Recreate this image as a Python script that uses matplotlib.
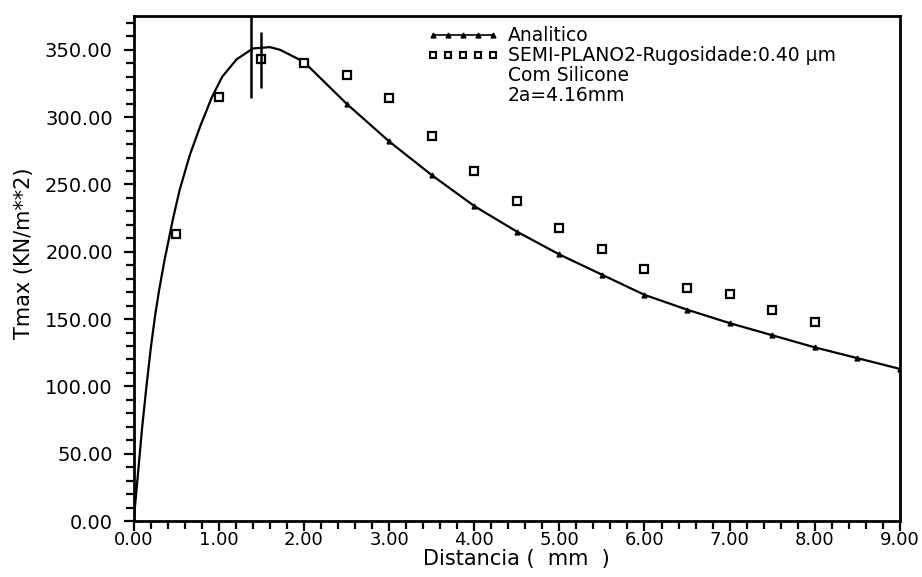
import matplotlib.pyplot as plt
from matplotlib.ticker import MultipleLocator, FormatStrFormatter
from matplotlib.lines import Line2D

# --- Curva analitica ---
dist_analitico = [0.0, 0.05, 0.10, 0.15, 0.20, 0.25, 0.30, 0.36, 0.46, 0.54,
                  0.66, 0.78, 0.92, 1.04, 1.21, 1.40, 1.60, 1.72, 2.0, 2.5,
                  3.0, 3.5, 4.0, 4.5, 5.0, 5.5, 6.0, 6.5, 7.0, 7.5, 8.0, 8.5, 9.0]
tmax_analitico = [0, 35, 70, 100, 128, 152, 172, 193, 224, 246,
                  272, 293, 315, 330, 343, 351, 352, 350, 341, 310,
                  282, 257, 234, 215, 198, 183, 168, 157, 147, 138, 129, 121, 113]

# --- Pontos experimentais (semi-plano 2) ---
dist_exp = [0.5, 1.0, 1.5, 2.0, 2.5, 3.0, 3.5, 4.0,
            4.5, 5.0, 5.5, 6.0, 6.5, 7.0, 7.5, 8.0]
tmax_exp = [213, 315, 343, 340, 331, 314, 286, 260,
            238, 218, 202, 187, 173, 169, 157, 148]

# --- Barras verticais perto do pico ---
barra_x = [1.38, 1.50]
barra_min = [314, 322]
barra_max = [375, 363]

plt.rcParams["font.family"] = "DejaVu Sans"

fig = plt.figure(figsize=(9.22, 5.77), dpi=100)
ax = fig.add_axes([0.145, 0.097, 0.831, 0.875])

# marcadores da curva analitica nos pontos de 0.5 em 0.5 mm
marcas = [0] + list(range(18, len(dist_analitico)))
ax.plot(dist_analitico, tmax_analitico, color="black", lw=1.6,
        marker="^", ms=3.5, markevery=marcas)
ax.plot(dist_exp, tmax_exp, ls="none", marker="s", ms=6, mfc="white",
        mec="black", mew=1.6)
ax.vlines(barra_x, barra_min, barra_max, color="black", lw=1.8)

ax.set_xlim(0, 9)
ax.set_ylim(0, 375)
ax.xaxis.set_major_locator(MultipleLocator(1))
ax.xaxis.set_minor_locator(MultipleLocator(0.2))
ax.yaxis.set_major_locator(MultipleLocator(50))
ax.yaxis.set_minor_locator(MultipleLocator(10))
ax.xaxis.set_major_formatter(FormatStrFormatter("%.2f"))
ax.yaxis.set_major_formatter(FormatStrFormatter("%.2f"))
ax.tick_params(which="both", direction="out", width=1.6, color="black")
ax.tick_params(which="major", length=7)
ax.tick_params(which="minor", length=6)
ax.tick_params(axis="x", which="major", labelsize=13, pad=0)
ax.tick_params(axis="y", which="major", labelsize=14, pad=8)
for s in ax.spines.values():
    s.set_linewidth(2)

ax.set_xlabel("Distancia (  mm  )", fontsize=15, labelpad=0)
ax.set_ylabel("Tmax (KN/m**2)", fontsize=15)
ax.yaxis.set_label_coords(-0.13, 0.53)

h_ana = Line2D([], [], color="black", lw=1.2, marker="^", ms=3.5)
h_exp = Line2D([], [], ls="none", marker="s", ms=5, mfc="white",
               mec="black", mew=1.5)
h_none = Line2D([], [], ls="none")
ax.legend([h_ana, h_exp, h_none, h_none],
          ["Analitico", "SEMI-PLANO2-Rugosidade:0.40 \u03bcm",
           "Com Silicone", "2a=4.16mm"],
          loc="upper left", bbox_to_anchor=(0.37, 1.0), frameon=False,
          numpoints=5, handlelength=3.8, handletextpad=0.5,
          labelspacing=0.05, fontsize=13.5, borderaxespad=0.15)

plt.savefig("out.png", dpi=100)
